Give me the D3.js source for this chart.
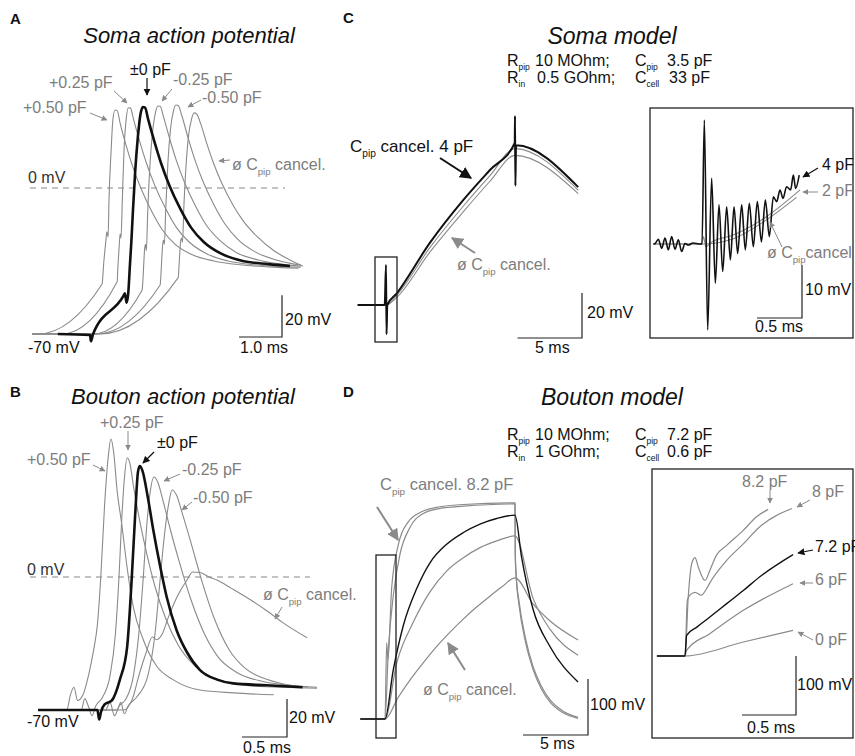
<!DOCTYPE html>
<html lang="en">
<head>
<meta charset="utf-8">
<script src="https://d3js.org/d3.v7.min.js"></script>
<style>
body { margin: 0; background: #fff; }
text { font-family: "Liberation Sans", Arial, sans-serif; }
</style>
</head>
<body>
<script>
// time in ms, voltage in mV (C/D: change from rest)

// A - soma action potential, Cpip compensation steps
var somaP050 = [[0,-70],[0.14,-70],[1.63,-46],[1.67,-35.5],[1.72,-25],[1.74,-21],[1.77,-23.5],[1.79,-6],[1.84,18],[1.88,32.5],[1.93,37.4],[1.98,37.2],[2.05,31],[2.18,21],[2.33,11],[2.53,0],[2.78,-11],[3.03,-20],[3.33,-27],[3.73,-32],[4.23,-35],[4.83,-36.8],[5.5,-37.8],[6.2,-38.5]];
var somaP025 = [[0,-70],[0.7,-70],[1.98,-45],[2.0,-37],[2.03,-27],[2.05,-22],[2.07,-24],[2.1,-6],[2.14,18],[2.19,33],[2.24,38.5],[2.29,38.3],[2.36,33],[2.51,22],[2.66,12],[2.86,1],[3.11,-10],[3.36,-19],[3.66,-26],[4.06,-31.5],[4.56,-35],[5.16,-36.8],[5.7,-37.5],[6.25,-38]];
var somaZero = [[0.6,-70],[1.35,-70.5],[1.37,-73.5],[1.42,-70],[2.12,-52],[2.16,-50.5],[2.2,-55],[2.24,-50],[2.28,-36],[2.31,-26],[2.35,-10],[2.4,8],[2.46,24],[2.52,35],[2.58,38.8],[2.63,38.5],[2.7,33],[2.85,22],[3.0,12],[3.2,1],[3.45,-10],[3.7,-19],[4.0,-26],[4.4,-31.5],[4.9,-35],[5.5,-36.5],[6.0,-37.4]];
var somaM025 = [[0,-70],[1.42,-70],[2.56,-49],[2.58,-44],[2.6,-36],[2.62,-29],[2.64,-27],[2.66,-30],[2.69,-12],[2.74,10],[2.8,26],[2.87,36],[2.93,39.3],[2.98,39.2],[3.06,34],[3.21,23],[3.36,13],[3.56,2],[3.81,-9],[4.06,-18],[4.36,-25],[4.76,-31],[5.26,-34.5],[5.8,-36.5],[6.25,-37.5]];
var somaM050 = [[0,-70],[1.5,-70],[2.98,-46.5],[3.0,-41],[3.02,-33],[3.04,-27],[3.06,-25],[3.08,-27],[3.11,-10],[3.16,12],[3.22,28],[3.29,37],[3.35,39.8],[3.4,39.6],[3.48,35],[3.63,24],[3.78,14],[3.98,3],[4.23,-8],[4.48,-17],[4.78,-24.5],[5.18,-30.5],[5.68,-34.5],[6.25,-37]];
var somaNone = [[0,-70],[1.58,-70],[3.4,-43],[3.42,-37],[3.44,-30],[3.46,-25],[3.48,-24],[3.5,-26],[3.53,-10],[3.58,10],[3.64,25],[3.71,33],[3.77,36],[3.83,35.5],[3.92,31],[4.07,21],[4.22,12],[4.42,2],[4.67,-8],[4.92,-16],[5.22,-23],[5.62,-30],[6.0,-34.5],[6.3,-37.5]];

// B - bouton action potential
var boutonP050 = [[0,-70],[0.32,-70],[0.36,-62],[0.4,-58],[0.44,-65],[0.5,-62],[0.56,-52],[0.62,-38],[0.66,-25],[0.7,2],[0.74,38],[0.78,63],[0.81,72.6],[0.84,66],[0.88,45],[0.93,28],[0.99,5],[1.06,-16],[1.17,-33],[1.32,-47],[1.5,-54],[1.8,-59.5],[2.17,-61],[2.62,-62]];
var boutonP025 = [[0,-70],[0.48,-70],[0.52,-64],[0.56,-68],[0.6,-73],[0.64,-68],[0.72,-63],[0.8,-52],[0.86,-30],[0.9,0],[0.93,30],[0.96,52],[0.99,62.6],[1.02,60],[1.06,48],[1.12,32],[1.2,14],[1.3,-5],[1.42,-22],[1.56,-36],[1.75,-47],[2.0,-54],[2.4,-57.5],[3.1,-58.5]];
var boutonZero = [[0,-70],[0.66,-70],[0.68,-75],[0.7,-71],[0.74,-67],[0.82,-65],[0.91,-54],[0.99,-37],[1.04,-2],[1.08,33],[1.11,55],[1.13,58.4],[1.16,56],[1.22,42],[1.28,25],[1.36,5],[1.43,-10.5],[1.54,-28],[1.66,-40],[1.8,-49],[1.99,-54],[2.17,-56],[2.54,-57],[2.94,-58]];
var boutonM025 = [[0,-70],[0.75,-70],[0.8,-66],[0.85,-73],[0.9,-68],[0.98,-64],[1.06,-52],[1.12,-30],[1.17,0],[1.21,28],[1.25,46],[1.29,52.6],[1.33,50],[1.39,40],[1.47,25],[1.57,8],[1.7,-12],[1.85,-30],[2.0,-42],[2.2,-50],[2.5,-55],[2.8,-57],[3.1,-58]];
var boutonM050 = [[0,-70],[0.88,-70],[0.92,-66],[0.96,-72],[1.0,-68],[1.1,-63],[1.22,-52],[1.3,-30],[1.35,-5],[1.4,20],[1.45,38],[1.49,45.8],[1.54,43],[1.6,34],[1.7,18],[1.82,-2],[1.96,-22],[2.12,-38],[2.3,-48],[2.55,-54],[2.8,-57],[3.0,-58]];
var boutonNone = [[0,-70],[0.95,-70],[1.05,-64],[1.12,-52],[1.2,-40],[1.27,-31.6],[1.32,-33],[1.38,-30],[1.45,-21],[1.55,-10],[1.65,-2],[1.72,2.6],[1.8,2.4],[1.9,0],[1.99,-1.6],[2.15,-6],[2.36,-12],[2.55,-18],[2.72,-24],[2.99,-32]];

// C - soma model, 10 ms current step
var somaModel4pF = [[-2.2,0],[-0.1,0],[0,17.8],[0.04,-13],[0.1,0],[0.85,5.3],[3.4,27.6],[6,46.7],[8.06,60],[9.98,72],[10,84],[10.03,53],[10.08,71],[14.9,52.4]];
var somaModel2pF = [[-2.2,0],[0,0],[0.85,4.5],[3.4,25.5],[6,44],[8.06,57.5],[10,69.5],[14.9,51]];
var somaModelNone = [[-2.2,0],[0,0],[0.85,3.5],[3.4,23.5],[6,41.5],[8.06,55],[10,66.5],[14.9,49.5]];
// C inset - first ms of the step
var somaInset4pF = [[-0.54,0],[-0.52,0.1],[-0.485,0.9],[-0.448,-0.8],[-0.411,1.1],[-0.374,-1.1],[-0.337,1.4],[-0.3,-1.0],[-0.263,0.8],[-0.226,-1.4],[-0.189,0.1],[-0.152,-0.2],[-0.1,0.2],[-0.02,0],[0,0],[0.026,23.4],[0.063,-16.2],[0.107,12.4],[0.148,-7.4],[0.189,7.4],[0.23,-5.2],[0.274,7],[0.315,-3],[0.356,7],[0.396,-1.8],[0.441,7.4],[0.481,-1.1],[0.526,7.7],[0.57,-0.5],[0.615,8],[0.66,0.4],[0.704,8.3],[0.748,1.4],[0.793,8.9],[0.83,8],[0.867,10.2],[0.9,8.6],[0.94,10.8],[0.985,10.2],[1.015,13],[1.04,10.5],[1.08,13]];
var somaInset2pF = [[-0.54,0],[0,0],[0.015,1.4],[0.044,-0.5],[0.1,0.3],[0.348,1.7],[0.72,5.2],[1.09,10.2]];
var somaInsetNone = [[-0.54,0],[0,0],[0.348,1.0],[0.72,4.6],[1.05,8.8]];

// D - bouton model
var boutonModel82 = [[-1.9,0],[0,0],[0.13,136],[0.23,106],[0.51,233],[1.03,312],[1.79,352],[2.82,370],[4.23,379],[6.03,383],[10,386],[10.02,290],[10.1,250],[10.3,205],[10.8,138],[11.4,88],[12.0,55],[12.7,30],[13.7,11],[14.85,1]];
var boutonModel80 = [[-1.9,0],[0,0],[0.26,124],[0.64,221],[1.15,294],[1.92,342],[2.95,367],[4.23,376],[6.03,380],[10,384],[10.02,300],[10.1,255],[10.3,212],[10.8,145],[11.4,93],[12.0,60],[12.7,34],[13.7,14],[14.85,3]];
var boutonModel72 = [[-1.9,0],[0,0],[0.64,88],[1.41,167],[2.44,233],[3.46,279],[4.74,312],[6.03,333],[7.31,348],[8.59,358],[10,364],[10.5,290],[11.4,195],[12.7,129],[14.85,66]];
var boutonModel60 = [[-1.9,0],[0,0],[0.9,100],[2.18,173],[3.46,227],[4.74,264],[6.03,288],[7.31,306],[8.59,318],[10,327],[11.4,215],[12.7,160],[14.85,114]];
var boutonModel00 = [[-1.9,0],[0,0],[1,38],[2,72],[3,102],[4,130],[5,155],[6,178],[7,199],[8,218],[9,236],[10,252],[11.4,205],[12.7,175],[14.85,141]];
// D inset - first ms of the step
var boutonInset82 = [[-0.26,0],[0,0],[0.03,100],[0.062,156.5],[0.093,166.7],[0.123,150.8],[0.185,128],[0.23,145],[0.29,170.6],[0.386,187.6],[0.54,213],[0.66,235.6],[0.77,248.5]];
var boutonInset80 = [[-0.26,0],[0,0],[0.022,95],[0.05,104],[0.093,108],[0.15,103],[0.2,114],[0.23,124],[0.386,162],[0.54,190],[0.69,218.6],[0.99,250]];
var boutonInset72 = [[-0.26,0],[0,0],[0.015,35],[0.11,49],[0.23,66],[0.386,88.7],[0.54,111],[0.69,134],[1.0,172]];
var boutonInset60 = [[-0.26,0],[0,0],[0.015,9.6],[0.23,37.9],[0.54,77.4],[1.0,122.6]];
var boutonInset00 = [[-0.26,0],[0,0],[0.54,23.7],[1.0,43.5]];

var W = 855, H = 756;
var GRAY = "#8a8a8a", GTXT = "#7d7d7d", INK = "#111";

var svg = d3.select("body").append("svg").attr("width", W).attr("height", H);
svg.append("rect").attr("width", W).attr("height", H).attr("fill", "#fff");

var defs = svg.append("defs");
[["ahGray", GRAY], ["ahBlack", INK]].forEach(function (m) {
  defs.append("marker").attr("id", m[0])
    .attr("viewBox", "0 0 10 10").attr("refX", 9).attr("refY", 5)
    .attr("markerWidth", 6).attr("markerHeight", 6).attr("orient", "auto")
    .append("path").attr("d", "M0,0 L10,5 L0,10 z").attr("fill", m[1]);
});

function trace(data, x, y, color, width) {
  svg.append("path").datum(data)
    .attr("d", d3.line().x(function (d) { return x(d[0]); }).y(function (d) { return y(d[1]); }).curve(d3.curveMonotoneX))
    .attr("fill", "none").attr("stroke", color).attr("stroke-width", width)
    .attr("stroke-linejoin", "round");
}

// "ø C_{pip} cancel." -> subscripts
function label(x, y, str, size, color, style) {
  var t = svg.append("text").attr("x", x).attr("y", y).attr("font-size", size).attr("fill", color);
  if (style == "italic") t.attr("font-style", "italic");
  if (style == "bold") t.attr("font-weight", "bold");
  var bits = str.split(/_\{(.*?)\}/), shift = 0;
  bits.forEach(function (b, i) {
    if (b === "") return;
    var s = t.append("tspan").text(b);
    if (i % 2) { s.attr("font-size", size * 0.6).attr("dy", size * 0.3); shift = size * 0.3; }
    else if (shift) { s.attr("dy", -shift); shift = 0; }
  });
  return t;
}

// model parameter: symbol + subscript, value placed in its own column
function param(x, y, sym, sub, value, xValue) {
  svg.append("text").attr("x", x).attr("y", y).attr("font-size", 16).attr("fill", INK).text(sym);
  svg.append("text").attr("x", x + 11.5).attr("y", y + 3.5).attr("font-size", 8.5).attr("fill", INK).text(sub);
  svg.append("text").attr("x", xValue).attr("y", y).attr("font-size", 16).attr("fill", INK).text(value);
}

function arrow(x1, y1, x2, y2, color, w) {
  svg.append("line").attr("x1", x1).attr("y1", y1).attr("x2", x2).attr("y2", y2)
    .attr("stroke", color).attr("stroke-width", w || 1)
    .attr("marker-end", color == INK ? "url(#ahBlack)" : "url(#ahGray)");
}

function scaleBar(x0, y0, lx, ly) {
  svg.append("path").attr("d", "M" + (x0 - lx) + "," + y0 + "H" + x0 + "V" + (y0 - ly))
    .attr("fill", "none").attr("stroke", "#222").attr("stroke-width", 1.2);
}

function box(x, y, w, h) {
  svg.append("rect").attr("x", x).attr("y", y).attr("width", w).attr("height", h)
    .attr("fill", "none").attr("stroke", "#222").attr("stroke-width", 1.3);
}

function dashed(x1, x2, y) {
  svg.append("line").attr("x1", x1).attr("x2", x2).attr("y1", y).attr("y2", y)
    .attr("stroke", "#888").attr("stroke-width", 1.1).attr("stroke-dasharray", "6,5");
}

// ---------- A ----------
var xA = d3.scaleLinear().domain([0, 1]).range([32, 75]);
var yA = d3.scaleLinear().domain([-70, 0]).range([334, 188]);
label(10, 24, "A", 15, INK, "bold");
label(189, 43, "Soma action potential", 22, INK, "italic").attr("text-anchor", "middle");
dashed(30, 285, yA(0));
[somaP050, somaP025, somaM025, somaM050, somaNone].forEach(function (d) { trace(d, xA, yA, GRAY, 1.1); });
trace(somaZero, xA, yA, INK, 2.6);
label(130, 75, "±0 pF", 16, INK);
arrow(147, 78, 147, 95, INK, 1.2);
label(49, 88, "+0.25 pF", 16, GTXT);
arrow(114, 91, 127, 103, GRAY);
label(173, 85, "-0.25 pF", 16, GTXT);
arrow(172, 89, 162, 101, GRAY);
label(23, 113, "+0.50 pF", 16, GTXT);
arrow(90, 113, 107, 120, GRAY);
label(202, 103, "-0.50 pF", 16, GTXT);
arrow(201, 100, 188, 107, GRAY);
label(232, 170, "ø C_{pip} cancel.", 16, GTXT);
arrow(230, 160, 219, 161, GRAY);
label(28, 183, "0 mV", 16, "#333");
label(28, 353, "-70 mV", 16, INK);
scaleBar(282, 337, xA(1) - xA(0), yA(0) - yA(20));
label(285, 325, "20 mV", 16, INK);
label(240, 353, "1.0 ms", 16, INK);

// ---------- B ----------
var xB = d3.scaleLinear().domain([0, 1]).range([38, 128]);
var yB = d3.scaleLinear().domain([-70, 0]).range([710, 577]);
label(10, 397, "B", 15, INK, "bold");
label(183, 404, "Bouton action potential", 22, INK, "italic").attr("text-anchor", "middle");
dashed(30, 310, yB(0));
[boutonP050, boutonP025, boutonM025, boutonM050, boutonNone].forEach(function (d) { trace(d, xB, yB, GRAY, 1.1); });
trace(boutonZero, xB, yB, INK, 2.6);
label(100, 428, "+0.25 pF", 16, GTXT);
arrow(128, 431, 128, 450, GRAY);
label(157, 448, "±0 pF", 16, INK);
arrow(154, 452, 143, 463, INK, 1.2);
label(27, 465, "+0.50 pF", 16, GTXT);
arrow(93, 465, 105, 471, GRAY);
label(182, 475, "-0.25 pF", 16, GTXT);
arrow(180, 474, 164, 481, GRAY);
label(193, 503, "-0.50 pF", 16, GTXT);
arrow(192, 502, 182, 510, GRAY);
label(27, 575, "0 mV", 16, "#333");
label(263, 600, "ø C_{pip} cancel.", 16, GTXT);
arrow(282, 607, 275, 619, GRAY);
label(27, 727, "-70 mV", 16, INK);
scaleBar(287, 737, xB(0.5) - xB(0), yB(0) - yB(20));
label(289, 723, "20 mV", 16, INK);
label(243, 753, "0.5 ms", 16, INK);

// ---------- C ----------
var xC = d3.scaleLinear().domain([0, 10]).range([386, 515]);
var yC = d3.scaleLinear().domain([0, 20]).range([305, 260]);
label(343, 23, "C", 15, INK, "bold");
label(612, 44, "Soma model", 23, INK, "italic").attr("text-anchor", "middle");
param(507, 66, "R", "pip", "10 MOhm;", 535);
param(635, 66, "C", "pip", "3.5 pF", 667);
param(507, 83, "R", "in", "0.5 GOhm;", 537);
param(635, 83, "C", "cell", "33 pF", 669);
trace(somaModelNone, xC, yC, GRAY, 1.1);
trace(somaModel2pF, xC, yC, GRAY, 1.1);
trace(somaModel4pF, xC, yC, INK, 2);
box(375, 257, 22, 85);
label(350, 152, "C_{pip} cancel. 4 pF", 17, INK);
arrow(440, 158, 471, 178, INK, 2);
label(457, 270, "ø C_{pip} cancel.", 16, GTXT);
arrow(475, 253, 452, 238, GRAY, 2);
scaleBar(582, 338, xC(5) - xC(0), yC(0) - yC(20));
label(587, 318, "20 mV", 16, INK);
label(535, 353, "5 ms", 16, INK);

// C inset
var xCi = d3.scaleLinear().domain([0, 0.5]).range([702, 747]);
var yCi = d3.scaleLinear().domain([0, 10]).range([244, 191]);
box(650, 108, 203, 230);
trace(somaInsetNone, xCi, yCi, GRAY, 1.1);
trace(somaInset2pF, xCi, yCi, GRAY, 1.1);
trace(somaInset4pF, xCi, yCi, INK, 1.6);
label(822, 170, "4 pF", 16, INK);
arrow(818, 168, 803, 177, INK, 1.2);
label(822, 196, "2 pF", 16, GTXT);
arrow(818, 192, 803, 192, GRAY);
label(767, 258, "ø C_{pip}cancel", 16, GTXT);
arrow(782, 247, 770, 222, GRAY);
scaleBar(802, 318, xCi(0.5) - xCi(0), yCi(0) - yCi(10));
label(805, 295, "10 mV", 16, INK);
label(755, 332, "0.5 ms", 16, INK);

// ---------- D ----------
var xD = d3.scaleLinear().domain([0, 10]).range([385, 515]);
var yD = d3.scaleLinear().domain([0, 100]).range([719, 663]);
label(343, 397, "D", 15, INK, "bold");
label(612, 405, "Bouton model", 23, INK, "italic").attr("text-anchor", "middle");
param(507, 440, "R", "pip", "10 MOhm;", 535);
param(635, 440, "C", "pip", "7.2 pF", 667);
param(507, 457, "R", "in", "1 GOhm;", 535);
param(635, 457, "C", "cell", "0.6 pF", 667);
[boutonModel82, boutonModel80, boutonModel60, boutonModel00].forEach(function (d) { trace(d, xD, yD, GRAY, 1.2); });
trace(boutonModel72, xD, yD, INK, 1.4);
box(376, 555, 20, 183);
label(380, 490, "C_{pip} cancel. 8.2 pF", 16.5, GTXT);
arrow(377, 507, 398, 540, GRAY, 2);
label(423, 695, "ø C_{pip} cancel.", 16, GTXT);
arrow(465, 670, 448, 643, GRAY, 2);
scaleBar(588, 735, xD(5) - xD(0), yD(0) - yD(100));
label(590, 710, "100 mV", 16, INK);
label(540, 749, "5 ms", 16, INK);

// D inset
var xDi = d3.scaleLinear().domain([0, 0.5]).range([685, 739]);
var yDi = d3.scaleLinear().domain([0, 100]).range([656, 597]);
box(652, 469, 201, 269);
[boutonInset82, boutonInset80, boutonInset60, boutonInset00].forEach(function (d) { trace(d, xDi, yDi, GRAY, 1.2); });
trace(boutonInset72, xDi, yDi, INK, 1.4);
label(742, 487, "8.2 pF", 16, GTXT);
arrow(770, 490, 770, 503, GRAY);
label(812, 497, "8 pF", 16, GTXT);
arrow(810, 500, 797, 507, GRAY);
label(815, 552, "7.2 pF", 16, INK);
arrow(813, 550, 798, 553, INK, 1.2);
label(815, 585, "6 pF", 16, GTXT);
arrow(813, 583, 800, 583, GRAY);
label(815, 645, "0 pF", 16, GTXT);
arrow(813, 640, 798, 632, GRAY);
scaleBar(796, 715, xDi(0.5) - xDi(0), yDi(0) - yDi(100));
label(797, 690, "100 mV", 16, INK);
label(747, 733, "0.5 ms", 16, INK);
</script>
</body>
</html>
